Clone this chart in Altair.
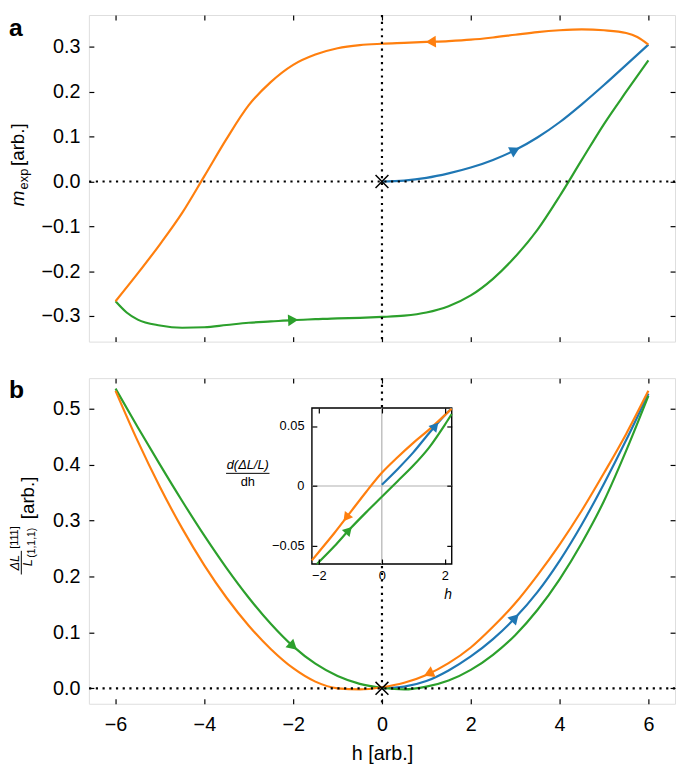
import math
import altair as alt
import numpy as np
import pandas as pd

FONT = "Liberation Sans"
BLUE, ORANGE, GREEN = "#1f77b4", "#ff7f0e", "#2ca02c"
SERIES = ["blue", "green", "orange"]
COLORS = [BLUE, GREEN, ORANGE]

# ---------------- panel a : m_exp vs h ----------------
a_blue_h = [0, 0.5, 1, 1.5, 2, 2.5, 3, 3.5, 4, 4.5, 5, 5.5, 6]
a_blue_m = [0.0, 0.002, 0.008, 0.018, 0.031, 0.048, 0.07, 0.098, 0.132, 0.172, 0.215, 0.26, 0.305]
a_orange_h = [6, 5.75, 5.5, 5, 4.5, 4, 3.5, 3, 2.5, 2, 1.5, 1, 0.5, 0, -0.5, -1, -1.5, -2,
              -2.5, -3, -3.5, -4, -4.5, -5, -5.5, -6]
a_orange_m = [0.305, 0.322, 0.331, 0.337, 0.339, 0.337, 0.333, 0.327, 0.321, 0.316, 0.313, 0.311,
              0.309, 0.307, 0.304, 0.297, 0.283, 0.26, 0.222, 0.17, 0.095, 0.012, -0.07, -0.14,
              -0.205, -0.267]
a_green_h = [-6, -5.75, -5.5, -5, -4.5, -4, -3.5, -3, -2.5, -2, -1.5, -1, -0.5, 0, 0.5, 1,
             1.5, 2, 2.5, 3, 3.5, 4, 4.5, 5, 5.5, 6]
a_green_m = [-0.267, -0.292, -0.308, -0.321, -0.326, -0.325, -0.320, -0.315, -0.312, -0.309,
             -0.307, -0.305, -0.304, -0.302, -0.299, -0.292, -0.278, -0.254, -0.217, -0.168,
             -0.108, -0.033, 0.048, 0.128, 0.2, 0.27]

# ---------------- panel b : dL/L vs h ----------------
b_blue_h = [0, 0.5, 1, 1.5, 2, 2.5, 3, 3.5, 4, 4.5, 5, 5.5, 6]
b_blue_v = [0.0, 0.003, 0.013, 0.032, 0.057, 0.088, 0.126, 0.172, 0.228, 0.293, 0.366, 0.444, 0.527]
b_orange_h = [6, 5.5, 5, 4.5, 4, 3.5, 3, 2.5, 2, 1.5, 1, 0.5, 0, -0.5, -1, -1.5, -2, -2.5, -3,
              -3.5, -4, -4.5, -5, -5.5, -6]
b_orange_v = [0.532, 0.455, 0.385, 0.318, 0.257, 0.202, 0.152, 0.11, 0.073, 0.045, 0.024, 0.01,
              0.002, -0.002, 0.0, 0.012, 0.036, 0.07, 0.112, 0.162, 0.22, 0.286, 0.36, 0.442, 0.532]
b_green_h = [-6, -5.5, -5, -4.5, -4, -3.5, -3, -2.5, -2, -1.5, -1, -0.5, 0, 0.5, 1, 1.5, 2, 2.5,
             3, 3.5, 4, 4.5, 5, 5.5, 6]
b_green_v = [0.536, 0.467, 0.4, 0.335, 0.273, 0.215, 0.162, 0.115, 0.075, 0.044, 0.022, 0.008,
             0.001, -0.002, 0.003, 0.014, 0.033, 0.06, 0.095, 0.14, 0.195, 0.26, 0.335, 0.425, 0.523]

# ---------------- inset : d(dL/L)/dh vs h ----------------
in_blue_h = [0, 0.5, 1, 1.5, 2, 2.22]
in_blue_d = [0.001, 0.014, 0.028, 0.044, 0.059, 0.065]
in_orange_h = [2.22, 1.5, 1, 0.5, 0, -0.5, -1, -1.5, -2, -2.22]
in_orange_d = [0.0645, 0.047, 0.036, 0.024, 0.011, -0.005, -0.022, -0.039, -0.055, -0.062]
in_green_h = [-2.06, -1.5, -1, -0.5, 0, 0.5, 1, 1.5, 2, 2.22]
in_green_d = [-0.065, -0.05, -0.0355, -0.022, -0.009, 0.004, 0.017, 0.032, 0.051, 0.06]

# arrow positions (h) and travel direction
a_arrows = [("blue", 3.0, 1), ("green", -2.0, 1), ("orange", 1.1, -1)]
b_arrows = [("blue", 3.0, 1), ("green", -2.0, 1), ("orange", 1.05, -1)]
in_arrows = [("blue", 1.7, 1), ("green", -1.05, 1), ("orange", -1.13, -1)]

x_ticks = [-6, -4, -2, 0, 2, 4, 6]
a_y_ticks = [-0.3, -0.2, -0.1, 0.0, 0.1, 0.2, 0.3]
b_y_ticks = [0.0, 0.1, 0.2, 0.3, 0.4, 0.5]
in_x_ticks = [-2, 0, 2]
in_y_ticks = [-0.05, 0, 0.05]

# ---------------- layout ----------------
W = 594
H1 = 331
H2 = 330
XDOM = [-6.6, 6.6]
A_YDOM = [-0.357, 0.371]
B_YDOM = [-0.0276, 0.5547]
IN_XDOM = [-2.22, 2.22]
IN_YDOM = [-0.065, 0.065]
IN_L, IN_R, IN_T, IN_B = 226.0, 367.7, 30.3, 188.3
TK = 5

cscale = alt.Scale(domain=SERIES, range=COLORS)


def sc(dom, rng=None):
    if rng is None:
        return alt.Scale(domain=dom, nice=False, zero=False)
    return alt.Scale(domain=dom, range=rng, nice=False, zero=False)


def series_df(items):
    frames = []
    for name, hs, vs in items:
        frames.append(pd.DataFrame({"h": hs, "v": vs, "s": name}))
    return pd.concat(frames, ignore_index=True)


def arrow_df(items, curves, xdom, ydom, wpx, hpx):
    sx = wpx / (xdom[1] - xdom[0])
    sy = hpx / (ydom[1] - ydom[0])
    rows = []
    for name, h0, d in items:
        hs, vs = curves[name]
        o = np.argsort(hs)
        xp = np.asarray(hs, float)[o]
        fp = np.asarray(vs, float)[o]
        v0 = float(np.interp(h0, xp, fp))
        e = 0.2
        dv = float(np.interp(h0 + e, xp, fp) - np.interp(h0 - e, xp, fp))
        ang = math.degrees(math.atan2(-d * dv * sy, d * 2 * e * sx)) % 360
        rows.append({"h": h0, "v": v0, "s": name, "ang": ang})
    return pd.DataFrame(rows)


def ax(orient, values, offset, labels=False, fmt=None, size=20, pad=9, title=None,
       tpad=10, z=0, expr=None):
    kw = dict(orient=orient, values=values, offset=offset, tickSize=TK, tickWidth=1.2,
              tickColor="black", domain=False, grid=False, labels=labels,
              labelFontSize=size, labelFont=FONT, labelColor="black", labelPadding=pad,
              labelFlush=False, labelOverlap=False, zindex=z, minExtent=0)
    if not labels:
        kw["maxExtent"] = 0
    if fmt is not None:
        kw["format"] = fmt
    if expr is not None:
        kw["labelExpr"] = expr
    if title is not None:
        kw["title"] = title
        kw["titlePadding"] = tpad
        kw["titleFontSize"] = 20
        kw["titleFont"] = FONT
        kw["titleFontWeight"] = "normal"
        kw["titleColor"] = "black"
    else:
        kw["title"] = None
    return alt.Axis(**kw)


def lines(df, xs, ys, xaxis=None, yaxis=None, width=2.2):
    return alt.Chart(df).mark_line(strokeWidth=width, interpolate="monotone").encode(
        x=alt.X("h:Q", scale=xs, axis=xaxis),
        y=alt.Y("v:Q", scale=ys, axis=yaxis),
        color=alt.Color("s:N", scale=cscale, legend=None),
        order=alt.Order("h:Q"),
    )


def arrows(df, xs, ys, size=140):
    return alt.Chart(df).mark_point(shape="triangle-right", filled=True, size=size,
                                    opacity=1).encode(
        x=alt.X("h:Q", scale=xs, axis=None),
        y=alt.Y("v:Q", scale=ys, axis=None),
        color=alt.Color("s:N", scale=cscale, legend=None),
        angle=alt.Angle("ang:Q", scale=None),
    )


def vdots(xs, xaxis):
    return alt.Chart(pd.DataFrame({"h": [0.0]})).mark_rule(
        color="black", strokeWidth=2.2, strokeDash=[2.2, 4.6]).encode(
        x=alt.X("h:Q", scale=xs, axis=xaxis))


def hdots(ys, yaxis):
    return alt.Chart(pd.DataFrame({"v": [0.0]})).mark_rule(
        color="black", strokeWidth=2.2, strokeDash=[2.2, 4.6]).encode(
        y=alt.Y("v:Q", scale=ys, axis=yaxis))


def cross(xs, ys):
    return alt.Chart(pd.DataFrame({"h": [0.0], "v": [0.0]})).mark_point(
        shape="M-1,-1L1,1M-1,1L1,-1", size=170, color="black", strokeWidth=1.5,
        filled=False, opacity=1).encode(
        x=alt.X("h:Q", scale=xs, axis=None), y=alt.Y("v:Q", scale=ys, axis=None))


def txt(t, x, y, size, angle=0, align="left", baseline="alphabetic", style="normal",
        weight="normal"):
    return alt.Chart(pd.DataFrame({"t": [t]})).mark_text(
        align=align, baseline=baseline, fontSize=size, fontStyle=style, fontWeight=weight,
        angle=angle, font=FONT, color="black").encode(
        x=alt.value(x), y=alt.value(y), text="t:N")


def bar(x1, x2, y1, y2, w=1.0):
    return alt.Chart(pd.DataFrame({"k": [0]})).mark_rule(color="black", strokeWidth=w).encode(
        x=alt.value(x1), x2=alt.value(x2), y=alt.value(y1), y2=alt.value(y2))


# ---------------- panel a ----------------
xa = sc(XDOM)
ya = sc(A_YDOM)
a_curves = {"blue": (a_blue_h, a_blue_m), "green": (a_green_h, a_green_m),
            "orange": (a_orange_h, a_orange_m)}
a_df = series_df([(k, *a_curves[k]) for k in SERIES])
a_arr = arrow_df(a_arrows, a_curves, XDOM, A_YDOM, W, H1)

panel_a = alt.layer(
    lines(a_df, xa, ya,
          xaxis=ax("bottom", x_ticks, -TK),
          yaxis=ax("left", a_y_ticks, -TK, labels=True, fmt=".1f", pad=9)),
    vdots(xa, ax("top", x_ticks, -TK)),
    hdots(ya, ax("right", a_y_ticks, -TK)),
    arrows(a_arr, xa, ya),
    cross(xa, ya),
    txt("a", -81, 1.0, 25, baseline="top", weight="bold"),
    txt("m", -65.5, 193.7, 19, angle=270, style="italic"),
    txt("exp", -62.0, 176.7, 13, angle=270),
    txt("[arb.]", -65.5, 153.0, 19, angle=270),
).resolve_scale(x="independent", y="independent").properties(width=W, height=H1)

# ---------------- panel b ----------------
xb = sc(XDOM)
yb = sc(B_YDOM)
b_curves = {"blue": (b_blue_h, b_blue_v), "green": (b_green_h, b_green_v),
            "orange": (b_orange_h, b_orange_v)}
b_df = series_df([(k, *b_curves[k]) for k in SERIES])
b_arr = arrow_df(b_arrows, b_curves, XDOM, B_YDOM, W, H2)

xi = sc(IN_XDOM, [IN_L, IN_R])
yi = sc(IN_YDOM, [IN_B, IN_T])
in_curves = {"blue": (in_blue_h, in_blue_d), "green": (in_green_h, in_green_d),
             "orange": (in_orange_h, in_orange_d)}
in_df = series_df([(k, *in_curves[k]) for k in SERIES])
in_arr = arrow_df(in_arrows, in_curves, IN_XDOM, IN_YDOM, IN_R - IN_L, IN_B - IN_T)

frame_df = pd.DataFrame({"x1": [IN_XDOM[0]], "x2": [IN_XDOM[1]],
                         "y1": [IN_YDOM[0]], "y2": [IN_YDOM[1]]})
inset_frame = alt.Chart(frame_df).mark_rect(fill="white", stroke="black",
                                            strokeWidth=1.4).encode(
    x=alt.X("x1:Q", scale=xi,
            axis=ax("bottom", in_x_ticks, (IN_B - TK) - H2, labels=True, fmt="d", size=13,
                    pad=6, z=1)),
    x2="x2:Q",
    y=alt.Y("y1:Q", scale=yi,
            axis=ax("left", in_y_ticks, -(IN_L + TK), labels=True, size=13, pad=8, z=1,
                    expr="datum.value == 0 ? '0' : format(datum.value, '.2f')")),
    y2="y2:Q",
)
grid_v = alt.Chart(pd.DataFrame({"h": [0.0], "y1": [IN_YDOM[0]], "y2": [IN_YDOM[1]]})).mark_rule(
    color="#b0b0b0", strokeWidth=1.2).encode(
    x=alt.X("h:Q", scale=xi, axis=ax("top", in_x_ticks, -(IN_T + TK), z=1)),
    y=alt.Y("y1:Q", scale=yi, axis=None), y2="y2:Q")
grid_h = alt.Chart(pd.DataFrame({"v": [0.0], "x1": [IN_XDOM[0]], "x2": [IN_XDOM[1]]})).mark_rule(
    color="#b0b0b0", strokeWidth=1.2).encode(
    y=alt.Y("v:Q", scale=yi, axis=ax("right", in_y_ticks, (IN_R - TK) - W, z=1)),
    x=alt.X("x1:Q", scale=xi, axis=None), x2="x2:Q")

panel_b = alt.layer(
    lines(b_df, xb, yb,
          xaxis=ax("bottom", x_ticks, -TK, labels=True, fmt="d", pad=11, title="h [arb.]",
                   tpad=9),
          yaxis=ax("left", b_y_ticks, -TK, labels=True, fmt=".1f", pad=9)),
    vdots(xb, ax("top", x_ticks, -TK)),
    hdots(yb, ax("right", b_y_ticks, -TK)),
    arrows(b_arr, xb, yb),
    cross(xb, yb),
    inset_frame,
    grid_v,
    grid_h,
    lines(in_df, xi, yi),
    arrows(in_arr, xi, yi, size=110),
    txt("h", 364, 224, 14, align="center", style="italic"),
    txt("d(ΔL/L)", 161, 92, 13, align="center", style="italic"),
    bar(139, 183, 96.5, 96.5),
    txt("dh", 161, 109, 13, align="center"),
    txt("b", -81, 0, 25, baseline="top", weight="bold"),
    txt("ΔL", -70.5, 187, 13, angle=270, align="center", style="italic"),
    bar(-68.5, -68.5, 175, 199),
    txt("L", -57.5, 187, 13, angle=270, align="center", style="italic"),
    txt("[111]", -72, 173, 11, angle=270),
    txt("(1,1,1)", -54.5, 182, 10.5, angle=270),
    txt("[arb.]", -56, 143, 19, angle=270),
).resolve_scale(x="independent", y="independent").properties(width=W, height=H2)

chart = alt.vconcat(panel_a, panel_b, spacing=33).resolve_scale(
    x="independent", y="independent", color="shared"
).properties(padding=0).configure_view(stroke="black", strokeWidth=1.3).configure(
    font=FONT)

chart.save("out.html", embed_options={"renderer": "svg", "actions": False})
